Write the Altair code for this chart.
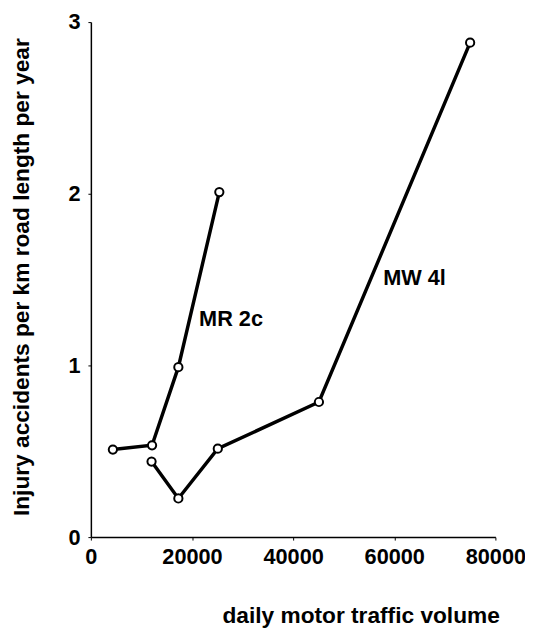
import altair as alt
import pandas as pd

# Series data
mr_x = [4350, 12100, 17300, 25400]
mr_y = [0.51, 0.535, 0.99, 2.01]
mw_x = [12000, 17300, 25100, 45100, 75000]
mw_y = [0.44, 0.225, 0.515, 0.787, 2.88]

series_names = ["MR 2c", "MW 4l"]
label_texts = ["MR 2c", "MW 4l"]
label_x = [21400, 57800]
label_y = [1.27, 1.51]

x_ticks = [0, 20000, 40000, 60000, 80000]
y_ticks = [0, 1, 2, 3]

rows = []
for i, (x, y) in enumerate(zip(mr_x, mr_y)):
    rows.append({"series": series_names[0], "order": i, "x": x, "y": y})
for i, (x, y) in enumerate(zip(mw_x, mw_y)):
    rows.append({"series": series_names[1], "order": i, "x": x, "y": y})
df = pd.DataFrame(rows)

labels = pd.DataFrame({"text": label_texts, "x": label_x, "y": label_y})

FONT = "Liberation Sans"

xscale = alt.Scale(domain=[0, 80000], nice=False, zero=False)
yscale = alt.Scale(domain=[0, 3], nice=False)

xaxis = alt.Axis(
    title="daily motor traffic volume",
    values=x_ticks,
    format="d",
    grid=False,
    domainColor="black",
    domainWidth=1.5,
    tickColor="black",
    tickSize=3,
    labelFont=FONT,
    labelFontSize=22,
    labelFontWeight="bold",
    labelColor="black",
    labelPadding=7,
    labelFlush=False,
    titleFont=FONT,
    titleFontSize=23,
    titleFontWeight="bold",
    titleColor="black",
    titleAnchor="end",
    titleAlign="right",
    titleX=414,
    titleY=80,
    titleBaseline="middle",
)
yaxis = alt.Axis(
    title="Injury accidents per km road length per year",
    values=y_ticks,
    format="d",
    grid=False,
    domainColor="black",
    domainWidth=1.5,
    tickColor="black",
    tickSize=3,
    labelFont=FONT,
    labelFontSize=22,
    labelFontWeight="bold",
    labelColor="black",
    labelPadding=8,
    labelFlush=False,
    titleFont=FONT,
    titleFontSize=23,
    titleFontWeight="bold",
    titleColor="black",
    titleX=-70,
    titleY=258,
    titleAngle=-90,
    titleBaseline="middle",
    titleAlign="center",
)

base = alt.Chart(df)
lines = base.mark_line(color="black", strokeWidth=3.5).encode(
    x=alt.X("x:Q", scale=xscale, axis=xaxis),
    y=alt.Y("y:Q", scale=yscale, axis=yaxis),
    detail="series:N",
    order="order:Q",
)
points = base.mark_point(
    shape="circle", filled=True, fill="white", stroke="black", strokeWidth=2, size=70, opacity=1
).encode(
    x=alt.X("x:Q", scale=xscale),
    y=alt.Y("y:Q", scale=yscale),
)
texts = alt.Chart(labels).mark_text(
    font=FONT, fontSize=22, fontWeight="bold", color="black", align="left", baseline="middle"
).encode(
    x=alt.X("x:Q", scale=xscale),
    y=alt.Y("y:Q", scale=yscale),
    text="text:N",
)

chart = (
    alt.layer(lines, points, texts)
    .properties(
        width=410,
        height=522,
        autosize=alt.AutoSizeParams(type="none"),
        padding={"left": 84, "top": 10, "right": 30, "bottom": 100},
        background="white",
    )
    .configure_view(stroke=None)
)

chart.save("out.html", embed_options={"renderer": "svg", "actions": False})
